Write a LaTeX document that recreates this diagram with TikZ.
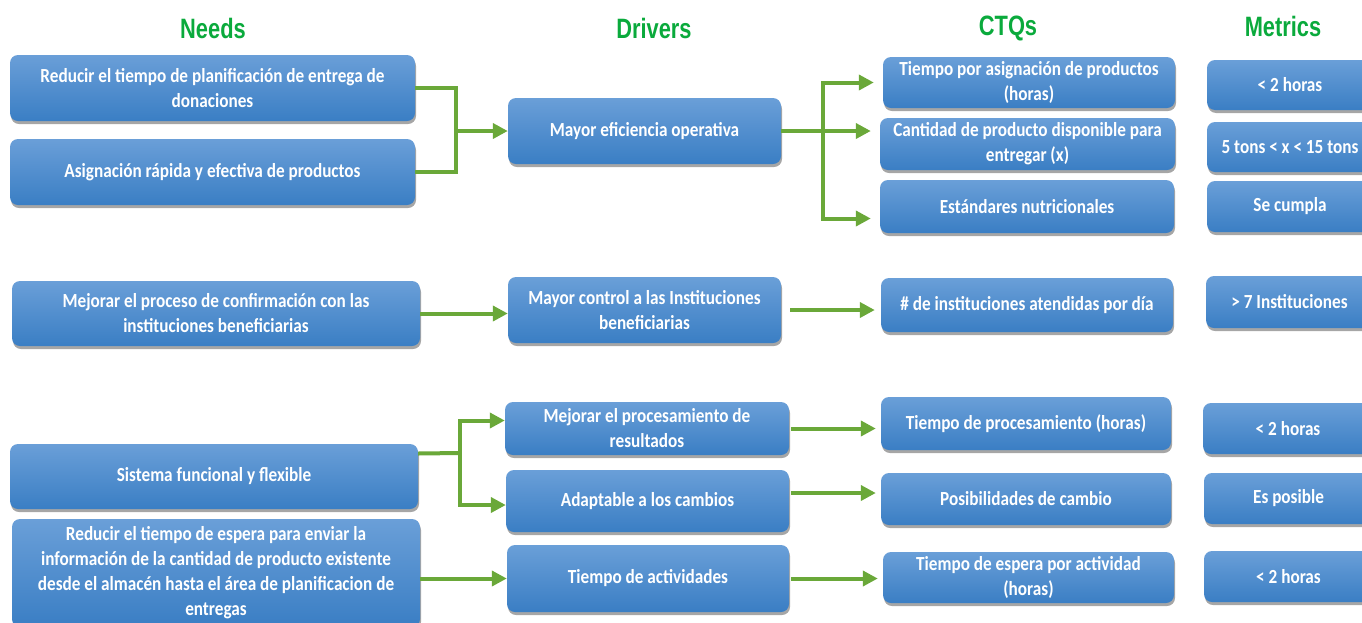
\documentclass[tikz,border=0pt]{standalone}
\usepackage{fontspec}
\usetikzlibrary{arrows.meta,shadows}
\newfontfamily\boxfont[FakeStretch=0.86]{Carlito}
\newfontfamily\headfont[FakeStretch=0.78]{Liberation Sans}
\definecolor{boxtop}{RGB}{106,159,216}
\definecolor{boxbot}{RGB}{58,126,196}
\definecolor{linkgreen}{RGB}{106,168,57}
\definecolor{headgreen}{RGB}{10,170,60}
\begin{document}
\begin{tikzpicture}[x=1pt,y=-1pt,
  box/.style={rounded corners=8pt,top color=boxtop,bottom color=boxbot,draw=none,
    drop shadow={shadow xshift=1pt,shadow yshift=-3pt,fill=black,opacity=0.35},
    text=white,align=center,inner sep=0pt,
    font=\boxfont\bfseries\fontsize{20}{25}\selectfont},
  head/.style={text=headgreen,font=\headfont\bfseries\fontsize{28}{32}\selectfont},
  link/.style={draw=linkgreen,line width=4pt},
  arrow/.style={link,-{Triangle[length=15pt,width=15pt]}}]
\useasboundingbox (0,0) rectangle (1362,622);
\node[head] (hneeds) at (213,28) {Needs};
\node[head] (hdrivers) at (654,28) {Drivers};
\node[head] (hctqs) at (1008,28) {CTQs};
\node[head] (hmetrics) at (1283,26) {Metrics};
\node[box,minimum width=405pt,minimum height=66pt] (n1) at (212.5,88) {Reducir el tiempo de planificación de entrega de\\donaciones};
\node[box,minimum width=405pt,minimum height=66pt] (n2) at (212.5,172) {Asignación rápida y efectiva de productos};
\node[box,minimum width=408pt,minimum height=65pt] (n3) at (216,313.5) {Mejorar el proceso de confirmación con las\\instituciones beneficiarias};
\node[box,minimum width=408pt,minimum height=65pt] (n4) at (214,476.5) {Sistema funcional y flexible};
\node[box,minimum width=408pt,minimum height=108pt] (n5) at (216,573) {Reducir el tiempo de espera para enviar la\\información de la cantidad de producto existente\\desde el almacén hasta el área de planificacion de\\entregas};
\node[box,minimum width=273pt,minimum height=66pt] (d1) at (644.5,131) {Mayor eficiencia operativa};
\node[box,minimum width=273pt,minimum height=66pt] (d2) at (644.5,310) {Mayor control a las Instituciones\\beneficiarias};
\node[box,minimum width=284pt,minimum height=53pt] (d3) at (647,428.5) {Mejorar el procesamiento de\\resultados};
\node[box,minimum width=283pt,minimum height=62pt] (d4) at (647.5,501) {Adaptable a los cambios};
\node[box,minimum width=282pt,minimum height=67pt] (d5) at (648,578.5) {Tiempo de actividades};
\node[box,minimum width=292pt,minimum height=51pt] (c1) at (1029,82.5) {Tiempo por asignación de productos\\(horas)};
\node[box,minimum width=295pt,minimum height=52pt] (c2) at (1027.5,144) {Cantidad de producto disponible para\\entregar (x)};
\node[box,minimum width=294pt,minimum height=53pt] (c3) at (1027,206.5) {Estándares nutricionales};
\node[box,minimum width=292pt,minimum height=54pt] (c4) at (1027,305) {\# de instituciones atendidas por día};
\node[box,minimum width=290pt,minimum height=53pt] (c5) at (1026,423.5) {Tiempo de procesamiento (horas)};
\node[box,minimum width=290pt,minimum height=52pt] (c6) at (1026,499) {Posibilidades de cambio};
\node[box,minimum width=291pt,minimum height=51pt] (c7) at (1028.5,577.5) {Tiempo de espera por actividad\\(horas)};
\node[box,minimum width=166pt,minimum height=50pt] (m1) at (1290,85) {< 2 horas};
\node[box,minimum width=166pt,minimum height=50pt] (m2) at (1290,147) {5 tons < x < 15 tons};
\node[box,minimum width=166pt,minimum height=51pt] (m3) at (1290,206.5) {Se cumpla};
\node[box,minimum width=167pt,minimum height=52pt] (m4) at (1289.5,302) {> 7 Instituciones};
\node[box,minimum width=170pt,minimum height=51pt] (m5) at (1288,428.5) {< 2 horas};
\node[box,minimum width=169pt,minimum height=51pt] (m6) at (1288.5,498.5) {Es posible};
\node[box,minimum width=169pt,minimum height=51pt] (m7) at (1288.5,576.5) {< 2 horas};
\coordinate (j1) at (456,131);
\coordinate (j2) at (823,131);
\coordinate (j3) at (460,453);
\draw[link] (n1.east) -| (j1);
\draw[link] (n2.east) -| (j1);
\draw[arrow] (j1) -- (d1.west);
\draw[link] (d1.east) -- (j2);
\draw[arrow] (j2) |- ([xshift=-9pt]c1.west);
\draw[arrow,shorten >=9pt] (j2) -- (j2 -| c2.west);
\draw[arrow] (j2) |- ([xshift=-9pt,yshift=-12pt]c3.west);
\draw[arrow] (n3.east) -- (n3.east -| d2.west);
\draw[arrow,shorten <=9pt,shorten >=6pt] (d2.east) -- (d2.east -| c4.west);
\draw[link] ([yshift=23pt]n4.east) -- (j3);
\draw[arrow] (j3) |- ([yshift=8pt]d3.west);
\draw[arrow] (j3) |- ([yshift=-4pt]d4.west);
\draw[arrow] (d5.west -| n5.east) -- (d5.west);
\draw[arrow,shorten <=2pt,shorten >=5pt] (d3.east) -- (d3.east -| c5.west);
\draw[arrow,shorten <=2pt,shorten >=5pt] ([yshift=8pt]d4.east) -- ([yshift=8pt]d4.east -| c6.west);
\draw[arrow,shorten <=2pt,shorten >=5pt] (d5.east) -- (d5.east -| c7.west);
\end{tikzpicture}
\end{document}
